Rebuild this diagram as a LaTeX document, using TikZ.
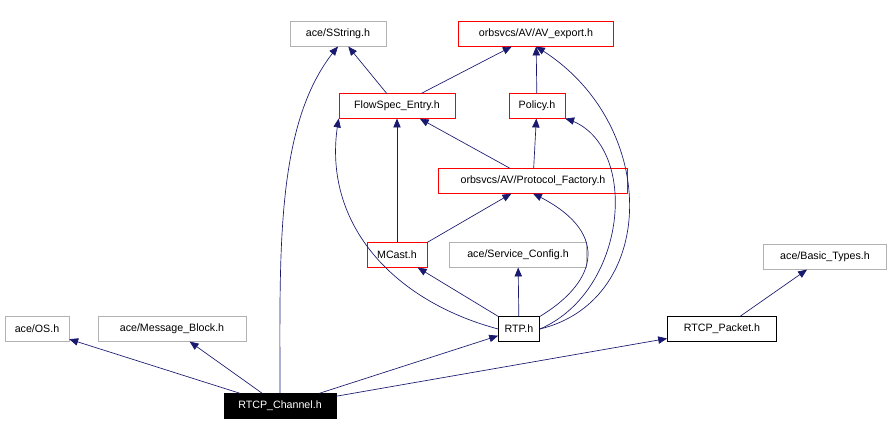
\documentclass[tikz,border=0pt]{standalone}
\usepackage{fontspec}
\setmainfont{Liberation Sans}
\usetikzlibrary{arrows}
\begin{document}
\begin{tikzpicture}[x=0.75pt,y=-0.75pt,
    box/.style={draw,rectangle,inner sep=0pt,minimum height=18.5pt,font=\fontsize{8}{9}\selectfont,text=black},
    gbox/.style={box,draw=black!30},
    rbox/.style={box,draw=red},
    kbox/.style={box,draw=black},
    dep/.style={draw={rgb,255:red,25;green,25;blue,112},-triangle 45,line width=0.5pt}]
    \useasboundingbox[fill=white] (0,0) rectangle (894,435);

    % Kopf
    \node[gbox,minimum width=72pt] (sstring) at (338,34) {ace/SString.h};
    \node[rbox,minimum width=116pt] (export) at (536,34) {orbsvcs/AV/AV\_export.h};
    \node[rbox,minimum width=87pt] (flowspec) at (397,106) {FlowSpec\_Entry.h};
    \node[rbox,minimum width=42pt] (policy) at (537,106) {Policy.h};
    \node[rbox,minimum width=142pt] (factory) at (533,181) {orbsvcs/AV/Protocol\_Factory.h};
    \node[rbox,minimum width=45pt] (mcast) at (397,255) {MCast.h};
    \node[gbox,minimum width=103pt] (service) at (518,255) {ace/Service\_Config.h};
    \node[gbox,minimum width=92pt] (basic) at (825,257) {ace/Basic\_Types.h};

    % Fuss
    \node[gbox,minimum width=48pt] (os) at (37,329) {ace/OS.h};
    \node[gbox,minimum width=111pt] (msgblock) at (172,329) {ace/Message\_Block.h};
    \node[kbox,minimum width=31pt] (rtp) at (519,329) {RTP.h};
    \node[kbox,minimum width=82pt] (packet) at (722,329) {RTCP\_Packet.h};
    \node[box,fill=black,text=white,minimum width=84pt] (channel) at (280,406) {RTCP\_Channel.h};

    % Kanten
    \draw[dep] (channel) -- (os);
    \draw[dep] (channel) -- (msgblock);
    \draw[dep] (channel) -- (rtp);
    \draw[dep] (channel) -- (packet);
    \draw[dep] (channel.north) .. controls (280,250) and (275,120) .. (sstring.south);
    \draw[dep] (packet) -- (basic);
    \draw[dep] (rtp) -- (mcast);
    \draw[dep] (rtp) -- (service);
    \draw[dep] (rtp.north east) .. controls (600,280) and (610,230) .. (factory.south);
    \draw[dep] (rtp.east) .. controls (630,290) and (640,140) .. (policy.south east);
    \draw[dep] (rtp.east) .. controls (660,300) and (660,120) .. (export.south);
    \draw[dep] (rtp.west) .. controls (390,300) and (320,220) .. (flowspec.south west);
    \draw[dep] (mcast) -- (flowspec);
    \draw[dep] (mcast.north east) -- (factory);
    \draw[dep] (factory) -- (flowspec);
    \draw[dep] (factory) -- (policy);
    \draw[dep] (flowspec) -- (sstring);
    \draw[dep] (flowspec) -- (export);
    \draw[dep] (policy) -- (export);
\end{tikzpicture}
\end{document}
